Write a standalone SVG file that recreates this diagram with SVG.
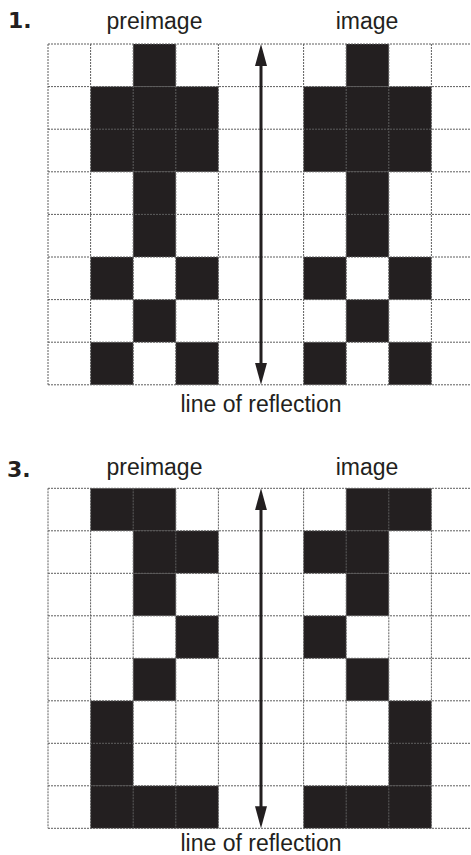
<svg xmlns="http://www.w3.org/2000/svg" width="471" height="855" viewBox="0 0 471 855">
<style>
.b{fill:#231f20}
.g{fill:none;stroke:#5e5e5e;stroke-width:1;stroke-dasharray:2 1}
.t{font-family:"Liberation Sans",Arial,sans-serif;font-size:23px;fill:#231f20;text-anchor:middle}
.n{font-family:"DejaVu Sans","Liberation Sans",sans-serif;font-weight:bold;font-size:22px;fill:#231f20}
.ar{stroke:#231f20;stroke-width:3;fill:none;marker-start:url(#ah);marker-end:url(#ah)}
</style>
<defs>
<marker id="ah" markerUnits="userSpaceOnUse" viewBox="0 0 22 12" refX="12" refY="6" markerWidth="22" markerHeight="12" orient="auto-start-reverse">
<path d="M0,0 L22,6 L0,12 Z" fill="#231f20"/>
</marker>
</defs>
<rect width="471" height="855" fill="#fff"/>

<g id="problem1">
<text class="n" x="8" y="27.5">1.</text>
<text class="t" x="154.5" y="29">preimage</text>
<text class="t" x="367" y="29">image</text>
<g id="grid1-cells">
<rect class="b" x="133.2" y="44" width="42.6" height="42.6"/>
<rect class="b" x="346.2" y="44" width="42.6" height="42.6"/>
<rect class="b" x="90.6" y="86.6" width="127.8" height="85.2"/>
<rect class="b" x="303.6" y="86.6" width="127.8" height="85.2"/>
<rect class="b" x="133.2" y="171.8" width="42.6" height="85.2"/>
<rect class="b" x="346.2" y="171.8" width="42.6" height="85.2"/>
<rect class="b" x="90.6" y="257" width="42.6" height="42.6"/>
<rect class="b" x="175.8" y="257" width="42.6" height="42.6"/>
<rect class="b" x="303.6" y="257" width="42.6" height="42.6"/>
<rect class="b" x="388.8" y="257" width="42.6" height="42.6"/>
<rect class="b" x="133.2" y="299.6" width="42.6" height="42.6"/>
<rect class="b" x="346.2" y="299.6" width="42.6" height="42.6"/>
<rect class="b" x="90.6" y="342.2" width="42.6" height="42.6"/>
<rect class="b" x="175.8" y="342.2" width="42.6" height="42.6"/>
<rect class="b" x="303.6" y="342.2" width="42.6" height="42.6"/>
<rect class="b" x="388.8" y="342.2" width="42.6" height="42.6"/>
</g>
<path class="g" d="M48,44H471M48,86.6H471M48,129.2H471M48,171.8H471M48,214.4H471M48,257H471M48,299.6H471M48,342.2H471M48,384.8H471
M48,44V384.8M90.6,44V384.8M133.2,44V384.8M175.8,44V384.8M218.4,44V384.8M303.6,44V384.8M346.2,44V384.8M388.8,44V384.8M431.4,44V384.8"/>
<text class="t" x="261" y="412">line of reflection</text>
</g>

<g id="problem3">
<text class="n" x="7" y="477">3.</text>
<text class="t" x="154.5" y="475">preimage</text>
<text class="t" x="367" y="475">image</text>
<g id="grid2-cells">
<rect class="b" x="90.6" y="488.3" width="85.2" height="42.5"/>
<rect class="b" x="346.2" y="488.3" width="85.2" height="42.5"/>
<rect class="b" x="133.2" y="530.8" width="85.2" height="42.5"/>
<rect class="b" x="303.6" y="530.8" width="85.2" height="42.5"/>
<rect class="b" x="133.2" y="573.3" width="42.6" height="42.5"/>
<rect class="b" x="346.2" y="573.3" width="42.6" height="42.5"/>
<rect class="b" x="175.8" y="615.8" width="42.6" height="42.5"/>
<rect class="b" x="303.6" y="615.8" width="42.6" height="42.5"/>
<rect class="b" x="133.2" y="658.3" width="42.6" height="42.5"/>
<rect class="b" x="346.2" y="658.3" width="42.6" height="42.5"/>
<rect class="b" x="90.6" y="700.8" width="42.6" height="85"/>
<rect class="b" x="388.8" y="700.8" width="42.6" height="85"/>
<rect class="b" x="90.6" y="785.8" width="127.8" height="42.5"/>
<rect class="b" x="303.6" y="785.8" width="127.8" height="42.5"/>
</g>
<path class="g" d="M48,488.3H471M48,530.8H471M48,573.3H471M48,615.8H471M48,658.3H471M48,700.8H471M48,743.3H471M48,785.8H471M48,828.3H471
M48,488.3V828.3M90.6,488.3V828.3M133.2,488.3V828.3M175.8,488.3V828.3M218.4,488.3V828.3M303.6,488.3V828.3M346.2,488.3V828.3M388.8,488.3V828.3M431.4,488.3V828.3"/>
<text class="t" x="261" y="851">line of reflection</text>
</g>

<g id="connectors">
<line class="ar" x1="261" y1="54" x2="261" y2="374.8"/>
<line class="ar" x1="261" y1="498.3" x2="261" y2="818.3"/>
</g>
</svg>
